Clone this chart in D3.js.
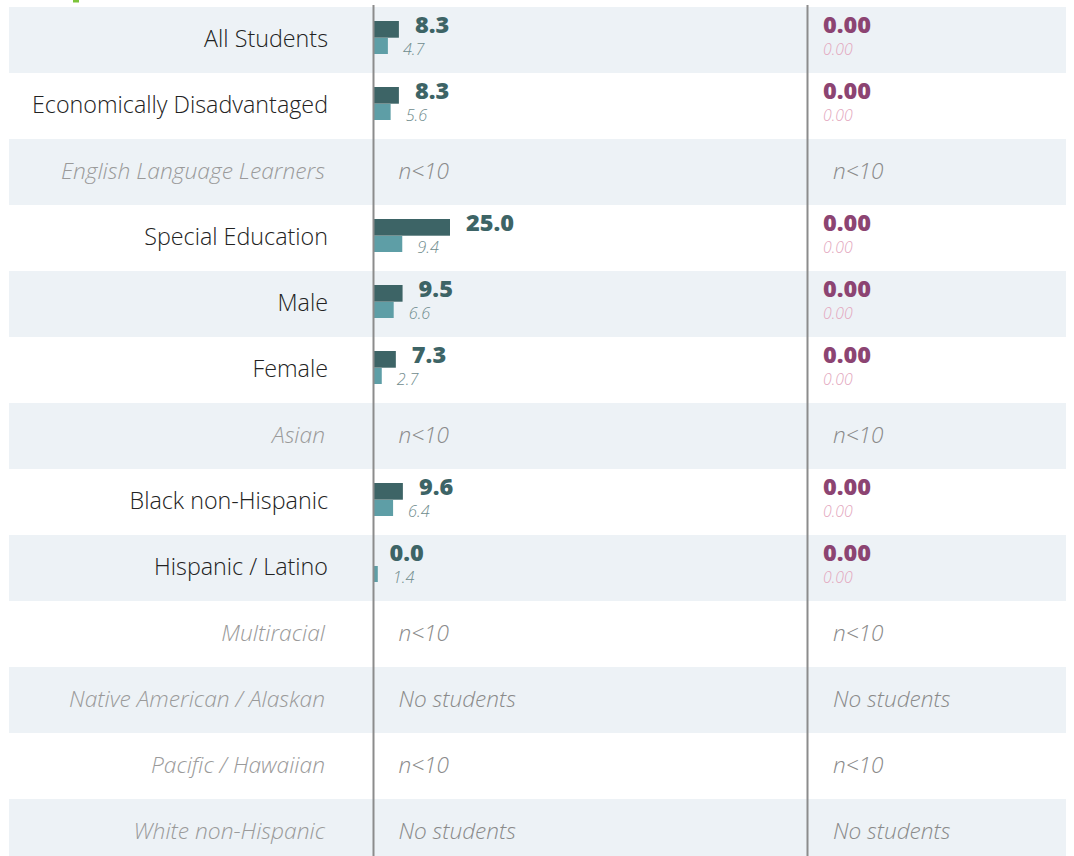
<!DOCTYPE html>
<html>
<head>
<meta charset="utf-8">
<script src="https://cdn.jsdelivr.net/npm/d3@7"></script>
<style>
  body { margin: 0; background: #fff; }
  text { font-family: "Open Sans", "Noto Sans", sans-serif; }
</style>
</head>
<body>
<div id="chart"></div>
<script>
// groups, in order
const groups = ["All Students", "Economically Disadvantaged", "English Language Learners",
  "Special Education", "Male", "Female", "Asian", "Black non-Hispanic", "Hispanic / Latino",
  "Multiracial", "Native American / Alaskan", "Pacific / Hawaiian", "White non-Hispanic"];
// school rate (dark bar), comparison rate (light bar); null = suppressed
const schoolRate = [8.3, 8.3, null, 25.0, 9.5, 7.3, null, 9.6, 0.0, null, null, null, null];
const compareRate = [4.7, 5.6, null, 9.4, 6.6, 2.7, null, 6.4, 1.4, null, null, null, null];
// second column values
const schoolRate2 = [0, 0, null, 0, 0, 0, null, 0, 0, null, null, null, null];
const compareRate2 = [0, 0, null, 0, 0, 0, null, 0, 0, null, null, null, null];
// note shown when suppressed
const notes = ["", "", "n<10", "", "", "", "n<10", "", "", "n<10", "No students", "n<10", "No students"];

const width = 1074, height = 856;
const svg = d3.select("#chart").append("svg")
  .attr("width", width)
  .attr("height", height);

const y = d3.scaleBand().domain(groups).range([7, 7 + groups.length * 66]);
const x = d3.scaleLinear().domain([0, 25]).range([0, 76.5]);
const col1 = 373.5, col2 = 807.5;

// small green mark at top (edge of header above)
svg.append("rect").attr("x", 73).attr("y", 0).attr("width", 6).attr("height", 2.5).attr("fill", "#7cc43a");

const rows = svg.selectAll(".row")
  .data(groups.map((g, i) => ({g, i, a: schoolRate[i], b: compareRate[i], a2: schoolRate2[i], b2: compareRate2[i], note: notes[i]})))
  .enter().append("g")
  .attr("class", "row")
  .attr("transform", d => "translate(0," + y(d.g) + ")");

rows.append("rect")
  .attr("x", 9).attr("y", 0)
  .attr("width", 1057).attr("height", y.bandwidth())
  .attr("fill", d => d.i % 2 == 0 ? "#edf2f6" : "#ffffff");

rows.append("text")
  .text(d => d.g)
  .attr("x", d => d.a == null ? 325 : 328).attr("y", 40)
  .attr("text-anchor", "end")
  .style("font-size", d => d.a == null ? "22.8px" : "23.3px")
  .style("font-weight", 300)
  .style("font-style", d => d.a == null ? "italic" : "normal")
  .attr("fill", d => d.a == null ? "#9a9a9a" : "#222");

const data = rows.filter(d => d.a != null);
const empty = rows.filter(d => d.a == null);

// first column bars
data.append("rect")
  .attr("x", col1).attr("y", 14)
  .attr("width", d => x(d.a)).attr("height", 16.7)
  .attr("fill", "#3d6466");
data.append("rect")
  .attr("x", col1).attr("y", 31)
  .attr("width", d => x(d.b)).attr("height", 16)
  .attr("fill", "#5e9ea6");
data.append("text")
  .text(d => d.a.toFixed(1))
  .attr("x", d => col1 + x(d.a) + 16).attr("y", 26.3)
  .style("font-size", "23.5px").style("font-weight", 800)
  .attr("fill", "#3d6466");
data.append("text")
  .text(d => d.b.toFixed(1))
  .attr("x", d => col1 + x(d.b) + 15).attr("y", 47.5)
  .style("font-size", "16.3px").style("font-style", "italic").style("font-weight", 300)
  .attr("fill", "#6f8c8d");

// second column values
data.append("text")
  .text(d => d.a2.toFixed(2))
  .attr("x", 823).attr("y", 26.3)
  .style("font-size", "23.5px").style("font-weight", 800)
  .attr("fill", "#8c4472");
data.append("text")
  .text(d => d.b2.toFixed(2))
  .attr("x", 823).attr("y", 47.5)
  .style("font-size", "15.8px").style("font-style", "italic").style("font-weight", 300)
  .attr("fill", "#e3a6bd");

// notes for suppressed rows
[col1 + 25, col2 + 25.5].forEach(cx => {
  empty.append("text")
    .text(d => d.note)
    .attr("x", cx).attr("y", 40)
    .style("font-size", "22.6px").style("font-style", "italic").style("font-weight", 300)
    .attr("fill", "#8a8a8a");
});

// column divider lines
[col1, col2].forEach(cx => {
  svg.append("line")
    .attr("x1", cx).attr("x2", cx)
    .attr("y1", 5).attr("y2", height)
    .attr("stroke", "#8c8c8c").attr("stroke-width", 2);
});
</script>
</body>
</html>
